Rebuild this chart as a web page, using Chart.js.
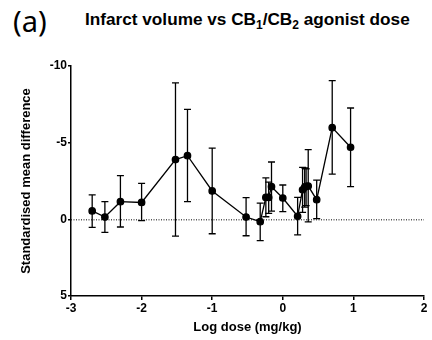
<!DOCTYPE html>
<html>
<head>
<meta charset="utf-8">
<script src="https://cdn.jsdelivr.net/npm/chart.js@4/dist/chart.umd.min.js"></script>
<style>
  html, body { margin: 0; padding: 0; background: #fff; }
  #wrap { position: relative; width: 432px; height: 340px; }
  #panel { position: absolute; left: 13px; top: 2px; font-family: "Noto Sans", "Open Sans", sans-serif; font-size: 29px; color: #000; line-height: 1.3; }
  #title { position: absolute; left: 85px; top: 9px; font-family: "Liberation Sans", Arial, sans-serif; font-weight: bold; font-size: 17.2px; color: #000; white-space: nowrap; line-height: 1.2; }
  #title sub { font-size: 12px; vertical-align: -4px; line-height: 0; }
  canvas { position: absolute; left: 0; top: 0; }
</style>
</head>
<body>
<div id="wrap">
  <div id="panel">(a)</div>
  <div id="title">Infarct volume vs CB<sub>1</sub>/CB<sub>2</sub> agonist dose</div>
  <canvas id="c" width="432" height="340"></canvas>
</div>
<script>
// Log dose (mg/kg)
const logDose = [-2.70, -2.52, -2.30, -2.00, -1.52, -1.35, -1.00, -0.52, -0.32, -0.24, -0.20, -0.16, 0.00, 0.21, 0.28, 0.31, 0.33, 0.36, 0.48, 0.70, 0.96];
// Standardised mean difference
const smd = [-0.55, -0.15, -1.15, -1.10, -3.90, -4.15, -1.85, -0.15, 0.15, -1.43, -1.43, -2.13, -1.39, -0.20, -1.93, -2.10, -2.15, -2.17, -1.28, -5.98, -4.70];
// Error bar ends
const errLow = [-1.60, -1.15, -2.85, -2.35, -8.90, -7.17, -4.65, -1.41, -1.06, -2.71, -2.43, -3.74, -2.24, -1.43, -3.39, -3.35, -3.30, -4.54, -2.56, -9.04, -7.26];
const errHigh = [0.52, 0.85, 0.50, 0.09, 1.09, -1.15, 0.94, 1.07, 1.39, -0.17, -0.39, -0.54, -0.50, 1.02, -0.46, -0.80, -0.90, 0.17, -0.05, -2.95, -2.13];
// Axis ticks
const xTicks = [-3, -2, -1, 0, 1, 2];
const yTicks = [-10, -5, 0, 5];
const refLineY = 0;

const errorBarPlugin = {
  id: 'errorBars',
  beforeDatasetsDraw(chart) {
    const { ctx, chartArea, scales } = chart;
    const y0 = scales.y.getPixelForValue(refLineY);
    ctx.save();
    ctx.strokeStyle = '#000';
    ctx.lineWidth = 1;
    ctx.setLineDash([1, 1.5]);
    ctx.beginPath();
    ctx.moveTo(chartArea.left, y0 + 0.5);
    ctx.lineTo(chartArea.right, y0 + 0.5);
    ctx.stroke();
    ctx.restore();
  },
  afterDatasetsDraw(chart) {
    const { ctx, scales } = chart;
    ctx.save();
    ctx.strokeStyle = '#000';
    ctx.lineWidth = 1.3;
    const cap = 3.5;
    for (let i = 0; i < logDose.length; i++) {
      const x = scales.x.getPixelForValue(logDose[i]);
      const yl = scales.y.getPixelForValue(errLow[i]);
      const yh = scales.y.getPixelForValue(errHigh[i]);
      ctx.beginPath();
      ctx.moveTo(x, yl); ctx.lineTo(x, yh);
      ctx.moveTo(x - cap, yl); ctx.lineTo(x + cap, yl);
      ctx.moveTo(x - cap, yh); ctx.lineTo(x + cap, yh);
      ctx.stroke();
    }
    ctx.restore();
  }
};

const tickFont = { family: '"Liberation Sans", Arial, sans-serif', size: 12, weight: 'bold' };
const titleFont = { family: '"Liberation Sans", Arial, sans-serif', size: 13, weight: 'bold' };

new Chart(document.getElementById('c'), {
  type: 'scatter',
  data: {
    datasets: [{
      data: logDose.map((x, i) => ({ x: x, y: smd[i] })),
      showLine: true,
      borderColor: '#000',
      backgroundColor: '#000',
      borderWidth: 1.3,
      pointRadius: 3.2,
      pointHoverRadius: 3.2,
      tension: 0
    }]
  },
  options: {
    responsive: false,
    animation: false,
    events: [],
    layout: { padding: { top: 66, right: 8, left: 0, bottom: 0 } },
    plugins: { legend: { display: false }, tooltip: { enabled: false } },
    scales: {
      x: {
        type: 'linear',
        min: -3, max: 2,
        afterBuildTicks(scale) { scale.ticks = xTicks.map(v => ({ value: v })); },
        afterFit(scale) { scale.height = 44; },
        ticks: { color: '#000', font: tickFont, padding: 1, maxRotation: 0, callback: v => String(v) },
        grid: { drawOnChartArea: false, drawTicks: true, tickLength: 4, color: '#000', lineWidth: 1.5 },
        border: { display: true, color: '#000', width: 1.5 },
        title: { display: true, text: 'Log dose (mg/kg)', color: '#000', font: titleFont, padding: { top: 0, bottom: 5 } }
      },
      y: {
        type: 'linear',
        min: -10, max: 5,
        reverse: true,
        afterBuildTicks(scale) { scale.ticks = yTicks.map(v => ({ value: v })); },
        afterFit(scale) { scale.width = 71; },
        ticks: { color: '#000', font: tickFont, padding: 1, callback: v => String(v) },
        grid: { drawOnChartArea: false, drawTicks: true, tickLength: 3, color: '#000', lineWidth: 1.5 },
        border: { display: true, color: '#000', width: 1.5 },
        title: { display: true, text: 'Standardised mean difference', color: '#000', font: titleFont, padding: { top: 19, bottom: 0 } }
      }
    }
  },
  plugins: [errorBarPlugin]
});
</script>
</body>
</html>
